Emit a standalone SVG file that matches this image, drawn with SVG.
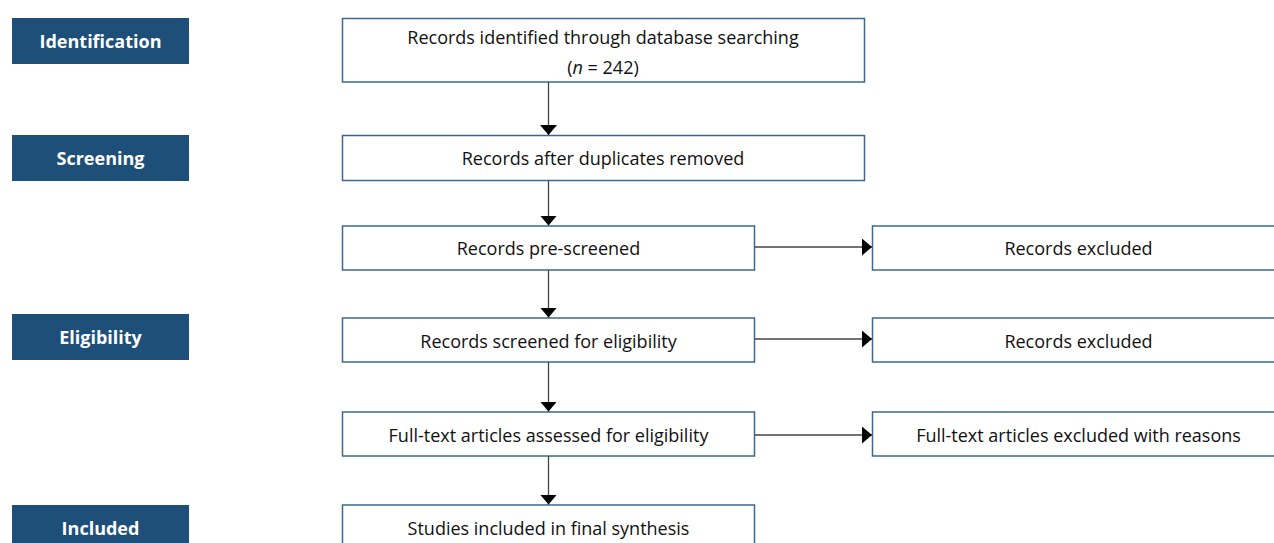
<svg xmlns="http://www.w3.org/2000/svg" width="1274" height="543" viewBox="0 0 1274 543">
<style>
.stage{fill:#1d4f78}
.stxt{fill:#fff;font-family:"Open Sans","Liberation Sans",sans-serif;font-weight:bold;font-size:18px;text-anchor:middle}
.box{fill:#fff;stroke:#3d6791;stroke-width:1.5}
.txt{fill:#111;font-family:"Open Sans","Liberation Sans",sans-serif;font-size:18px;text-anchor:middle}
.edge{stroke:#444;stroke-width:1.3;fill:none}
</style>
<defs>
<marker id="arr" markerWidth="10" markerHeight="17" refX="10" refY="8.5" orient="auto" markerUnits="userSpaceOnUse">
<path d="M0,0 L10,8.5 L0,17 Z" fill="#000"/>
</marker>
</defs>
<rect width="1274" height="543" fill="#fff"/>
<g id="stage-identification"><rect class="stage" x="12" y="18" width="177" height="46"/><text class="stxt" x="100.5" y="47.5">Identification</text></g>
<g id="stage-screening"><rect class="stage" x="12" y="135" width="177" height="46"/><text class="stxt" x="100.5" y="164.5">Screening</text></g>
<g id="stage-eligibility"><rect class="stage" x="12" y="314" width="177" height="46"/><text class="stxt" x="100.5" y="343.5">Eligibility</text></g>
<g id="stage-included"><rect class="stage" x="12" y="505" width="177" height="46"/><text class="stxt" x="100.5" y="534.5">Included</text></g>

<g id="n-identified"><rect class="box" x="342.5" y="18.5" width="522" height="63.5"/><text class="txt" x="603" y="43.5">Records identified through database searching</text><text class="txt" x="603" y="73.5">(<tspan font-style="italic">n</tspan> = 242)</text></g>
<g id="n-duplicates"><rect class="box" x="342.5" y="135.5" width="522" height="45"/><text class="txt" x="603" y="164.5">Records after duplicates removed</text></g>
<g id="n-prescreened"><rect class="box" x="342.5" y="226" width="412" height="44"/><text class="txt" x="548.5" y="254.5">Records pre-screened</text></g>
<g id="n-excluded1"><rect class="box" x="872.5" y="226" width="413" height="44"/><text class="txt" x="1078.5" y="254.5">Records excluded</text></g>
<g id="n-eligibility"><rect class="box" x="342.5" y="318" width="412" height="44"/><text class="txt" x="548.5" y="347.5">Records screened for eligibility</text></g>
<g id="n-excluded2"><rect class="box" x="872.5" y="318" width="413" height="44"/><text class="txt" x="1078.5" y="347.5">Records excluded</text></g>
<g id="n-fulltext"><rect class="box" x="342.5" y="412" width="412" height="44"/><text class="txt" x="548.5" y="441.5">Full-text articles assessed for eligibility</text></g>
<g id="n-excluded3"><rect class="box" x="872.5" y="412" width="413" height="44"/><text class="txt" x="1078.5" y="441.5">Full-text articles excluded with reasons</text></g>
<g id="n-included"><rect class="box" x="342.5" y="505" width="412" height="46"/><text class="txt" x="548.5" y="534.5">Studies included in final synthesis</text></g>

<g id="connectors">
<line class="edge" x1="548.5" y1="82" x2="548.5" y2="135" marker-end="url(#arr)"/>
<line class="edge" x1="548.5" y1="181" x2="548.5" y2="225.5" marker-end="url(#arr)"/>
<line class="edge" x1="548.5" y1="270" x2="548.5" y2="317.5" marker-end="url(#arr)"/>
<line class="edge" x1="548.5" y1="362" x2="548.5" y2="411.5" marker-end="url(#arr)"/>
<line class="edge" x1="548.5" y1="456" x2="548.5" y2="504.5" marker-end="url(#arr)"/>
<line class="edge" x1="754.5" y1="247" x2="872" y2="247" marker-end="url(#arr)"/>
<line class="edge" x1="754.5" y1="339" x2="872" y2="339" marker-end="url(#arr)"/>
<line class="edge" x1="754.5" y1="435" x2="872" y2="435" marker-end="url(#arr)"/>
</g>
</svg>
